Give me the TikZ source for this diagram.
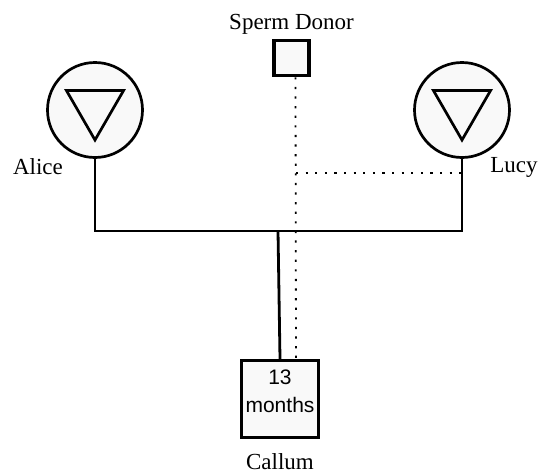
\documentclass[tikz,border=0pt]{standalone}
\usepackage{fontspec}
\setmainfont{Liberation Serif}
\newfontfamily\agefont{Liberation Sans}
\usetikzlibrary{shapes.geometric}
\definecolor{shapefill}{HTML}{F9F9F9}
\tikzstyle{female} = [circle, minimum size=95pt, inner sep=0pt, draw=black, line width=2.7pt, fill=shapefill]
\tikzstyle{gendersign} = [regular polygon, regular polygon sides=3, shape border rotate=180, minimum size=66pt, inner sep=0pt, draw=black, line width=2.7pt]
\tikzstyle{male} = [rectangle, minimum size=35pt, inner sep=0pt, draw=black, line width=3.5pt, fill=shapefill]
\tikzstyle{kid} = [rectangle, minimum size=77pt, inner sep=0pt, draw=black, line width=3.3pt, fill=shapefill]
\tikzstyle{persontag} = [font=\fontsize{23}{27}\selectfont, inner sep=0pt]
\tikzstyle{bond} = [line width=2.8pt]
\tikzstyle{donation} = [line width=1.8pt, dash pattern=on 2.2pt off 7.4pt]

\begin{document}
\begin{tikzpicture}[x=1pt, y=-1pt]
				\useasboundingbox (0,0) rectangle (538,474);
				\node (alice) [female] at (95,110) {};
				\node (lucy) [female] at (462,110) {};
				\node (alicesign) [gendersign] at (95,107) {};
				\node (lucysign) [gendersign] at (462,107) {};
				\node (donor) [male] at (291.5,58) {};
				\node (callum) [kid] at (280,399) {};
				\node (callumage) [font=\agefont\fontsize{21}{28}\selectfont, align=center] at (280,391) {13\\months};
				\node (alicename) [persontag] at (38,167) {Alice};
				\node (lucyname) [persontag] at (514,167) {Lucy};
				\node (donorname) [persontag] at (291.5,24) {Sperm Donor};
				\node (callumname) [persontag] at (280,462) {Callum};
				\coordinate (bar) at (278,231);
				\coordinate (link) at (296,173);
				\draw [bond] (alice.south) |- (bar) -| (lucy.south);
				\draw [bond] (bar) -- (callum.north);
				\draw [donation] ([xshift=4pt]donor.south) -- ([xshift=16pt]callum.north);
				\draw [donation] (link) -- (link -| lucy.south);
			\end{tikzpicture}
\end{document}
